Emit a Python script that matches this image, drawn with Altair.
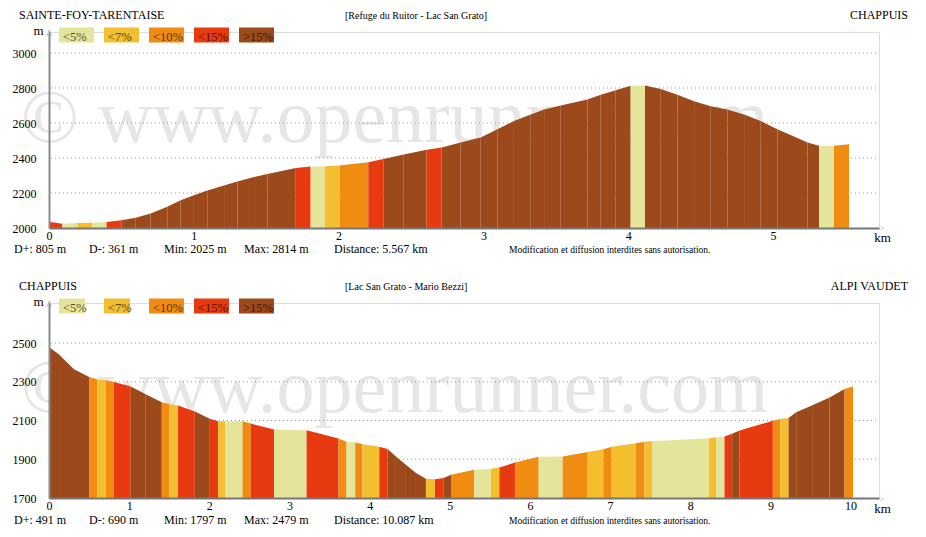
import altair as alt
import pandas as pd

FONT = "Liberation Serif"
CATS = ["<5%", "<7%", "<10%", "<15%", ">15%"]
COLORS = ["#E5E49B", "#F3BF31", "#F08C12", "#E83A10", "#9C4A1B"]
WATERMARK = "\u00a9 www.openrunner.com"
NOTICE = "Modification et diffusion interdites sans autorisation."

# ---------- top profile: Refuge du Ruitor - Lac San Grato ----------
top_km = [0.000, 0.092, 0.196, 0.299, 0.398, 0.500, 0.599, 0.702, 0.817, 0.909,
          1.001, 1.093, 1.209, 1.301, 1.416, 1.508, 1.623, 1.704, 1.807, 1.904,
          2.007, 2.205, 2.309, 2.450, 2.608, 2.712, 2.843, 2.981, 3.097, 3.211,
          3.327, 3.419, 3.534, 3.718, 3.810, 3.914, 4.017, 4.116, 4.225, 4.340,
          4.455, 4.570, 4.685, 4.800, 4.915, 5.030, 5.145, 5.238, 5.318, 5.421,
          5.525]
top_elev = [2036, 2025, 2029, 2030, 2034, 2045, 2058, 2083, 2121, 2159,
            2187, 2215, 2243, 2266, 2291, 2309, 2328, 2343, 2351, 2353,
            2357, 2376, 2394, 2420, 2447, 2460, 2489, 2517, 2564, 2611,
            2649, 2677, 2700, 2734, 2762, 2787, 2813, 2814, 2794, 2762,
            2725, 2696, 2677, 2649, 2611, 2564, 2523, 2489, 2470, 2470,
            2479]
top_cat = ["<15%", "<5%", "<7%", "<5%", "<15%",
           ">15%", ">15%", ">15%", ">15%", ">15%", ">15%", ">15%", ">15%", ">15%", ">15%", ">15%", ">15%",
           "<15%", "<5%", "<7%", "<10%", "<15%",
           ">15%", ">15%",
           "<15%",
           ">15%", ">15%", ">15%", ">15%", ">15%", ">15%", ">15%", ">15%", ">15%", ">15%", ">15%",
           "<5%",
           ">15%", ">15%", ">15%", ">15%", ">15%", ">15%", ">15%", ">15%", ">15%", ">15%", ">15%",
           "<5%", "<10%"]
top_xticks = [0, 1, 2, 3, 4, 5]
top_yticks = [2000, 2200, 2400, 2600, 2800, 3000]
top_grid = [2200, 2400, 2600, 2800, 3000]
top_names = ["SAINTE-FOY-TARENTAISE", "[Refuge du Ruitor - Lac San Grato]", "CHAPPUIS"]
top_stats = ["D+: 805 m", "D-: 361 m", "Min: 2025 m", "Max: 2814 m", "Distance: 5.567 km"]

# ---------- bottom profile: Lac San Grato - Mario Bezzi ----------
bot_km = [0.000, 0.125, 0.312, 0.500, 0.603, 0.707, 0.811, 1.020, 1.207, 1.407,
          1.498, 1.610, 1.819, 2.006, 2.110, 2.197, 2.414, 2.518, 2.809, 3.213,
          3.612, 3.712, 3.820, 3.912, 4.120, 4.224, 4.328, 4.453, 4.578, 4.702,
          4.815, 4.919, 5.015, 5.306, 5.513, 5.618, 5.813, 6.109, 6.408, 6.720,
          6.915, 7.019, 7.323, 7.428, 7.523, 8.231, 8.322, 8.427, 8.522, 8.615,
          9.030, 9.121, 9.226, 9.321, 9.530, 9.738, 9.925, 10.030]
bot_elev = [2479, 2441, 2364, 2325, 2313, 2308, 2299, 2276, 2236, 2194,
            2185, 2177, 2147, 2109, 2096, 2096, 2096, 2084, 2053, 2050,
            2007, 1990, 1987, 1978, 1964, 1953, 1914, 1871, 1829, 1800,
            1797, 1803, 1820, 1846, 1851, 1857, 1883, 1913, 1914, 1938,
            1951, 1965, 1982, 1990, 1993, 2009, 2014, 2017, 2031, 2048,
            2099, 2108, 2113, 2143, 2180, 2219, 2262, 2276]
bot_cat = [">15%", ">15%", ">15%", "<10%", "<7%", "<10%", "<15%", ">15%", ">15%", "<10%",
           "<7%", "<15%", ">15%", "<15%", "<7%", "<5%", "<10%", "<15%", "<5%", "<15%",
           "<10%", "<5%", "<10%", "<7%", "<15%", ">15%", ">15%", ">15%", ">15%", "<7%",
           "<15%", ">15%", "<10%", "<5%", "<7%", "<15%", "<10%", "<5%", "<10%", "<7%",
           "<10%", "<7%", "<10%", "<7%", "<5%", "<7%", "<5%", "<15%", ">15%", "<15%",
           "<10%", "<7%", ">15%", ">15%", ">15%", ">15%", "<10%"]
bot_xticks = [0, 1, 2, 3, 4, 5, 6, 7, 8, 9, 10]
bot_yticks = [1700, 1900, 2100, 2300, 2500]
bot_grid = [1900, 2100, 2300, 2500]
bot_names = ["CHAPPUIS", "[Lac San Grato - Mario Bezzi]", "ALPI VAUDET"]
bot_stats = ["D+: 491 m", "D-: 690 m", "Min: 1797 m", "Max: 2479 m", "Distance: 10.087 km"]

cscale = alt.Scale(domain=CATS, range=COLORS)
W = 830


def seg_df(km, elev, cats):
    rows = []
    for i, c in enumerate(cats):
        rows.append({"km": km[i], "elev": elev[i], "seg": i, "cat": c})
        rows.append({"km": km[i + 1], "elev": elev[i + 1], "seg": i, "cat": c})
    return pd.DataFrame(rows)


def txt(t, x, y, size=12, align="left", color="#000", opacity=1.0):
    return alt.Chart(pd.DataFrame({"t": [t]})).mark_text(
        align=align, baseline="alphabetic", font=FONT, fontSize=size,
        color=color, opacity=opacity
    ).encode(text="t:N", x=alt.value(x), y=alt.value(y))


def panel(km, elev, cats, xticks, yticks, grid, names, stats,
          px_per_km, ymin, px_per_m, height, box_w, wm_y):
    xs = alt.Scale(domain=[0, W / px_per_km], nice=False, zero=False)
    ys = alt.Scale(domain=[ymin, ymin + height / px_per_m], nice=False, zero=False)
    yaxis = alt.Axis(values=yticks, format="d", title=None, ticks=False, tickSize=0, grid=False,
                     labelPadding=13, labelFont=FONT, labelFontSize=12, labelColor="#000",
                     domainColor="#8a8a8a", domainWidth=2, zindex=1)
    xaxis = alt.Axis(values=xticks, format="d", title=None, ticks=False, tickSize=0,
                     grid=False, labelFlush=False, labelPadding=2, labelFont=FONT,
                     labelFontSize=12, labelColor="#000", domainColor="#777777",
                     domainWidth=2, zindex=1)

    layers = []
    layers.append(txt(WATERMARK, -28, wm_y, 76, color="#E6E6E6"))
    layers.append(
        alt.Chart(pd.DataFrame({"v": grid})).mark_rule(
            color="#9a9a9a", strokeDash=[1, 3], strokeWidth=1
        ).encode(y=alt.Y("v:Q", scale=ys, axis=yaxis), x=alt.value(2), x2=alt.value(827))
    )
    layers.append(
        alt.Chart(seg_df(km, elev, cats)).mark_area(interpolate="linear").encode(
            x=alt.X("km:Q", scale=xs, axis=xaxis),
            y=alt.Y("elev:Q", scale=ys, axis=yaxis),
            y2=alt.datum(ymin),
            color=alt.Color("cat:N", scale=cscale, legend=None),
            detail="seg:N",
        )
    )
    # legend boxes
    for i, c in enumerate(CATS):
        x0 = 10 + 45 * i
        layers.append(
            alt.Chart(pd.DataFrame({"c": [c]})).mark_rect().encode(
                x=alt.value(x0), x2=alt.value(x0 + box_w[i]),
                y=alt.value(-4.5), y2=alt.value(10.5),
                color=alt.Color("c:N", scale=cscale, legend=None),
            )
        )
        layers.append(txt(c, x0 + 4, 8.5, 12.5, color="#000", opacity=0.65))
    # axis decorations
    layers.append(txt("m", -10.5, 3, 13, align="center"))
    layers.append(txt("^", 0, 6, 12, align="center", color="#888888"))
    layers.append(txt(">", W + 3, 199, 9, align="center", color="#aaaaaa"))
    layers.append(txt("km", W + 3.5, 209.5, 13, align="center"))
    # titles
    layers.append(txt(names[0], -30, -12.7, 12))
    layers.append(txt(names[1], 296, -13, 10))
    layers.append(txt(names[2], 859, -13.5, 12, align="right"))
    # stats
    for s, x in zip(stats, [-35, 40, 115, 195, 285]):
        layers.append(txt(s, x, 220.7, 12))
    layers.append(txt(NOTICE, 460, 220.7, 9.5))
    return alt.layer(*layers).properties(width=W, height=height)


top = panel(top_km, top_elev, top_cat, top_xticks, top_yticks, top_grid, top_names,
            top_stats, 144.8, 2000, 0.175, 196, [35, 35, 35, 35, 35], 110)
bottom = panel(bot_km, bot_elev, bot_cat, bot_xticks, bot_yticks, bot_grid, bot_names,
               bot_stats, 80.16, 1700, 0.19375, 195, [26, 26, 35, 35, 35], 109)

chart = alt.vconcat(top, bottom, spacing=23).properties(
    padding={"left": 3, "top": 0, "right": 5, "bottom": 5}
).configure_view(stroke=None).configure(font=FONT)

chart.save("out.html", embed_options={"renderer": "svg", "actions": False})
